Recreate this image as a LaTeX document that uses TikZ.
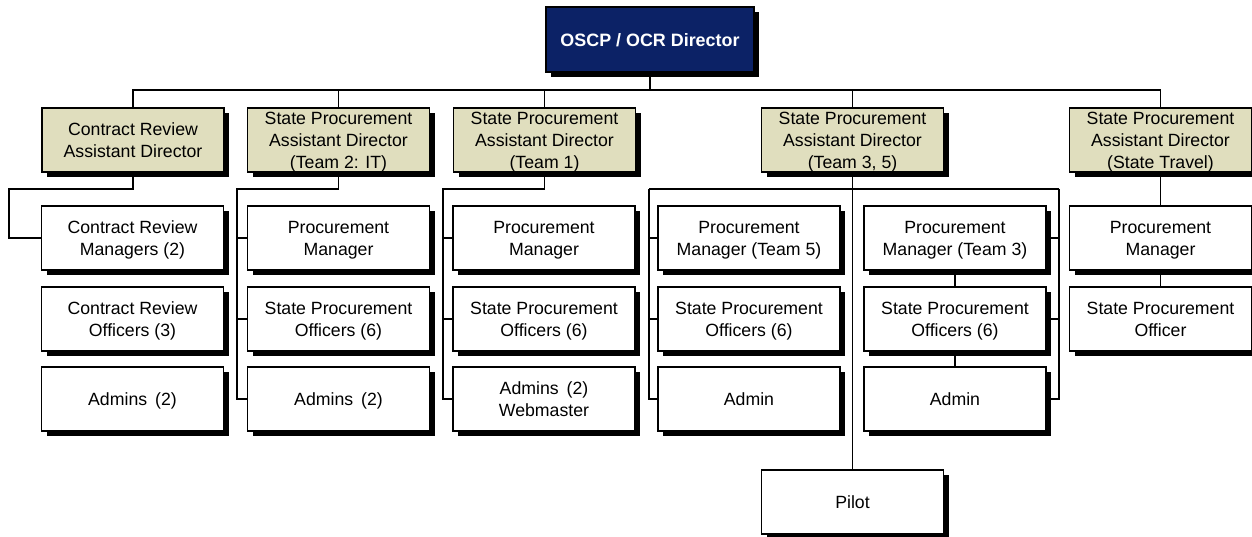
\documentclass[tikz,border=0pt]{standalone}
\usepackage{fontspec}
\setmainfont{Liberation Sans}
\usetikzlibrary{shadows}
\definecolor{navybox}{RGB}{12,34,102}
\definecolor{beigebox}{RGB}{224,222,190}
\newcommand{\linestrut}{\rule[-3pt]{0pt}{19.8pt}}
\newcommand{\bx}[1]{\linestrut#1\linestrut}
\begin{document}
\begin{tikzpicture}[x=1pt,y=-1pt,
  base/.style={draw=black, line width=1.5pt, align=center, inner sep=0pt,
    minimum width=182pt, minimum height=64pt,
    font=\fontsize{17.7}{22}\selectfont,
    drop shadow={shadow xshift=5pt, shadow yshift=-5pt, fill=black, opacity=1}},
  dirbox/.style={base, fill=navybox, text=white, minimum width=208pt, minimum height=65pt,
    font=\fontsize{17.9}{22}\selectfont\bfseries},
  adbox/.style={base, fill=beigebox},
  staffbox/.style={base, fill=white},
  conn/.style={draw=black, line width=1.5pt}]
\useasboundingbox (0,0) rectangle (1252,537);

% director
\node[dirbox] (dir) at (650,39.5) {\bx{OSCP / OCR Director}};

% assistant directors
\node[adbox] (crad) at (133,140) {\bx{Contract Review\\Assistant Director}};
\node[adbox] (t2ad) at (338.5,140) {\bx{State Procurement\\Assistant Director\\(Team 2: IT)}};
\node[adbox] (t1ad) at (544.5,140) {\bx{State Procurement\\Assistant Director\\(Team 1)}};
\node[adbox] (t35ad) at (852.5,140) {\bx{State Procurement\\Assistant Director\\(Team 3, 5)}};
\node[adbox] (stad) at (1160.5,140) {\bx{State Procurement\\Assistant Director\\(State Travel)}};

% contract review column
\node[staffbox] (cra) at (132.5,238) {\bx{Contract Review\\Managers (2)}};
\node[staffbox] (crb) at (132.5,319) {\bx{Contract Review\\Officers (3)}};
\node[staffbox] (crc) at (132.5,399) {\bx{Admins\hspace{0.45em}(2)}};

% team 2 column
\node[staffbox] (t2a) at (338.5,238) {\bx{Procurement\\Manager}};
\node[staffbox] (t2b) at (338.5,319) {\bx{State Procurement\\Officers (6)}};
\node[staffbox] (t2c) at (338.5,399) {\bx{Admins\hspace{0.45em}(2)}};

% team 1 column
\node[staffbox] (t1a) at (544,238) {\bx{Procurement\\Manager}};
\node[staffbox] (t1b) at (544,319) {\bx{State Procurement\\Officers (6)}};
\node[staffbox] (t1c) at (544,399) {\bx{Admins\hspace{0.45em}(2)\\Webmaster}};

% team 5 column
\node[staffbox] (t5a) at (749,238) {\bx{Procurement\\Manager (Team 5)}};
\node[staffbox] (t5b) at (749,319) {\bx{State Procurement\\Officers (6)}};
\node[staffbox] (t5c) at (749,399) {\bx{Admin}};

% team 3 column
\node[staffbox] (t3a) at (955,238) {\bx{Procurement\\Manager (Team 3)}};
\node[staffbox] (t3b) at (955,319) {\bx{State Procurement\\Officers (6)}};
\node[staffbox] (t3c) at (955,399) {\bx{Admin}};

% pilot
\node[staffbox] (pilot) at (852.5,502) {\bx{Pilot}};

% state travel column
\node[staffbox] (sta) at (1160.5,238) {\bx{Procurement\\Manager}};
\node[staffbox] (stb) at (1160.5,319) {\bx{State Procurement\\Officer}};

% bus coordinates
\coordinate (bus) at (0,90);
\coordinate (crL) at (9,189);
\coordinate (t2L) at (237,189);
\coordinate (t1L) at (443,189);
\coordinate (t5L) at (649,189);
\coordinate (t3R) at (1059,189);

% top connectors
\draw[conn] (dir.south) -- (dir.south |- bus);
\draw[conn] (crad.north) -- (crad.north |- bus) -- (stad.north |- bus) -- (stad.north);
\draw[conn] (t2ad.north) -- (t2ad.north |- bus);
\draw[conn] (t1ad.north) -- (t1ad.north |- bus);
\draw[conn] (t35ad.north) -- (t35ad.north |- bus);

% contract review
\draw[conn] (crad.south) |- (crL) |- (cra.west);

% team 2
\draw[conn] (t2ad.south) |- (t2L) |- (t2c.west);
\draw[conn] (t2L) |- (t2a.west);
\draw[conn] (t2L) |- (t2b.west);

% team 1
\draw[conn] (t1ad.south) |- (t1L) |- (t1c.west);
\draw[conn] (t1L) |- (t1a.west);
\draw[conn] (t1L) |- (t1b.west);

% team 3,5
\draw[conn] (t35ad.south) -- (pilot.north);
\draw[conn] (t5L) -- (t3R);
\draw[conn] (t5L) |- (t5c.west);
\draw[conn] (t5L) |- (t5a.west);
\draw[conn] (t5L) |- (t5b.west);
\draw[conn] (t3R) |- (t3c.east);
\draw[conn] (t3R) |- (t3a.east);
\draw[conn] (t3R) |- (t3b.east);
\draw[conn] (t3a) -- (t3b);
\draw[conn] (t3b) -- (t3c);

% state travel
\draw[conn] (stad) -- (sta);
\draw[conn] (sta) -- (stb);
\end{tikzpicture}
\end{document}
